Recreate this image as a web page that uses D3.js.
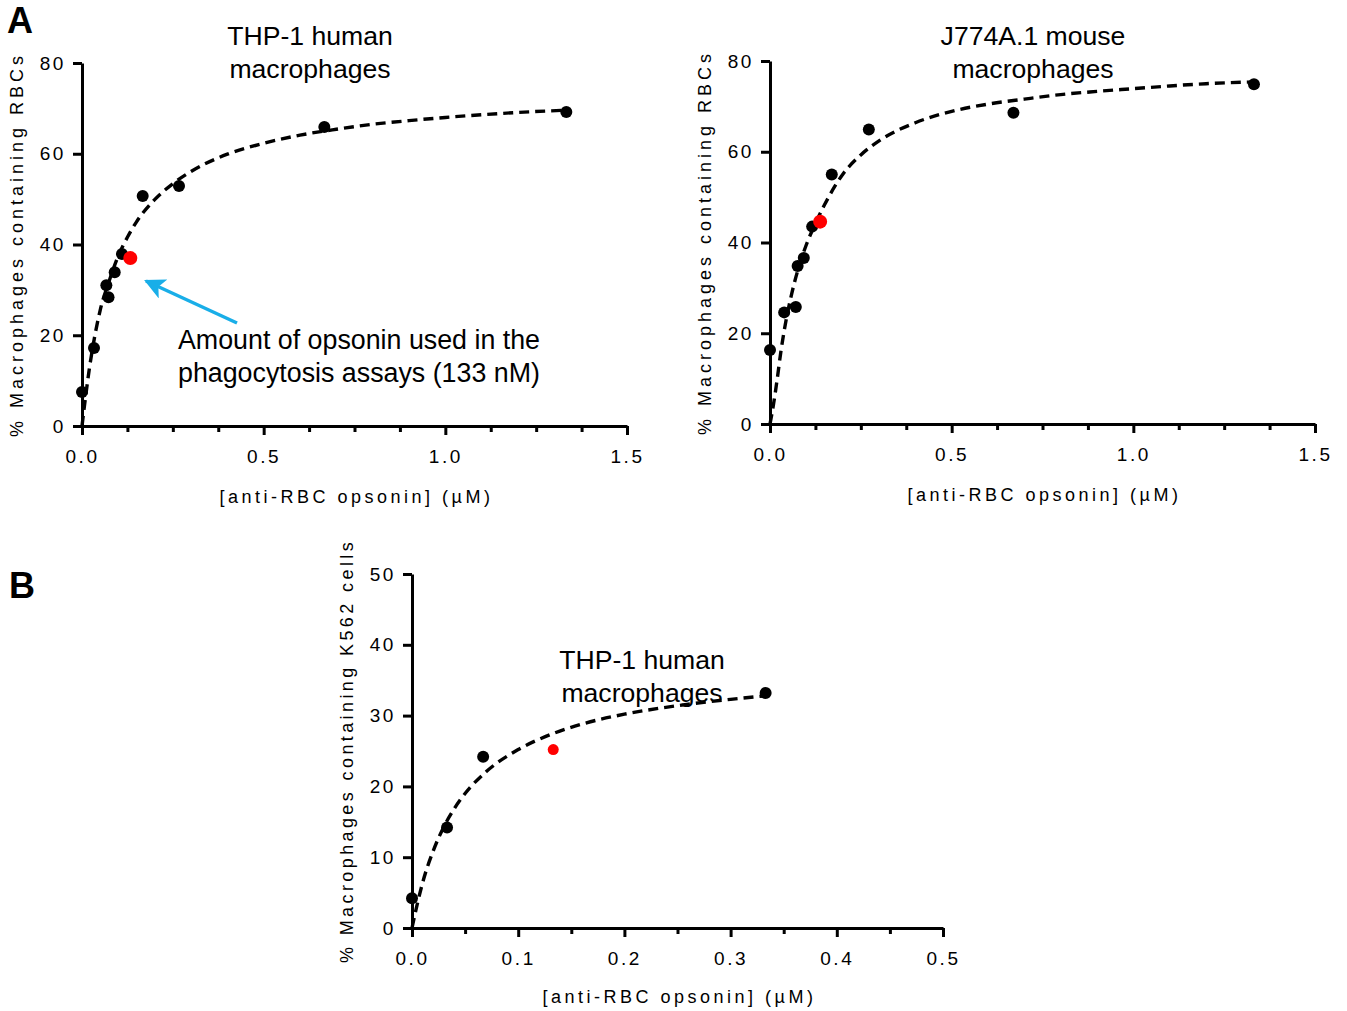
<!DOCTYPE html>
<html>
<head>
<meta charset="utf-8">
<script src="https://cdn.jsdelivr.net/npm/d3@7"></script>
<style>
  html, body { margin: 0; padding: 0; background: #fff; }
  svg { display: block; }
  text { font-family: "Liberation Sans", Arial, sans-serif; fill: #000; }
</style>
</head>
<body>
<svg id="fig" width="1347" height="1011"></svg>
<script>
// ---- THP-1 human macrophages, RBC targets (panel A, left) ----
const thpRbcX = [0, 0.033, 0.067, 0.073, 0.09, 0.11, 0.167, 0.267, 0.667, 1.333];
const thpRbcY = [7.5, 17.2, 31.0, 28.4, 33.9, 37.9, 50.7, 52.9, 65.9, 69.2];
const thpRbcRed = [0.133, 37.0];
const thpRbcFitX = [0, 0.01, 0.02, 0.03, 0.05, 0.075, 0.1, 0.125, 0.15, 0.2, 0.25, 0.3, 0.4, 0.5, 0.6, 0.7, 0.8, 0.9, 1.0, 1.1, 1.2, 1.333];
const thpRbcFitY = [0, 6.5, 12.5, 17.5, 25.5, 32.0, 37.5, 41.6, 45.0, 49.9, 53.4, 56.1, 59.9, 62.3, 64.1, 65.4, 66.5, 67.3, 68.0, 68.6, 69.1, 69.6];

// ---- J774A.1 mouse macrophages, RBC targets (panel A, right) ----
const j774X = [0, 0.039, 0.071, 0.076, 0.093, 0.116, 0.17, 0.272, 0.67, 1.332];
const j774Y = [16.3, 24.6, 25.8, 34.8, 36.6, 43.5, 55.0, 64.9, 68.6, 74.9];
const j774Red = [0.138, 44.6];
const j774FitX = [0, 0.01, 0.02, 0.03, 0.04, 0.06, 0.08, 0.1, 0.125, 0.15, 0.2, 0.25, 0.3, 0.4, 0.5, 0.6, 0.7, 0.8, 0.9, 1.0, 1.1, 1.2, 1.333];
const j774FitY = [0, 4.5, 10.0, 16.0, 21.0, 28.8, 34.8, 39.5, 44.2, 48.3, 55.0, 59.3, 62.4, 66.4, 68.9, 70.5, 71.6, 72.6, 73.3, 73.9, 74.5, 75.0, 75.4];

// ---- THP-1 human macrophages, K562 targets (panel B) ----
const k562X = [0, 0.033, 0.067, 0.333];
const k562Y = [4.2, 14.2, 24.2, 33.2];
const k562Red = [0.133, 25.2];
const k562FitX = [0, 0.005, 0.01, 0.02, 0.03, 0.04, 0.05, 0.07, 0.1, 0.13, 0.16, 0.2, 0.25, 0.3, 0.333];
const k562FitY = [0, 3.4, 6.4, 10.9, 14.3, 16.9, 19.0, 22.1, 25.2, 27.3, 28.8, 30.2, 31.4, 32.3, 32.8];

// ---- axis ticks ----
const xTicksA = [0, 0.5, 1.0, 1.5];
const xMinorA = [0.125, 0.25, 0.375, 0.625, 0.75, 0.875, 1.125, 1.25, 1.375];
const yTicksA = [0, 20, 40, 60, 80];
const xTicksB = [0, 0.1, 0.2, 0.3, 0.4, 0.5];
const xMinorB = [0.05, 0.15, 0.25, 0.35, 0.45];
const yTicksB = [0, 10, 20, 30, 40, 50];

const xTitle = "[anti-RBC opsonin] (\u00b5M)";

const svg = d3.select("#fig");

function panel(cfg) {
  const x = d3.scaleLinear().domain(cfg.xDomain).range([cfg.left, cfg.right]);
  const y = d3.scaleLinear().domain(cfg.yDomain).range([cfg.bottom, cfg.top]);
  const g = svg.append("g");

  // minor x ticks
  const minor = g.append("g")
    .attr("transform", `translate(0,${cfg.bottom})`)
    .call(d3.axisBottom(x).tickValues(cfg.xMinor).tickSize(6).tickFormat(""));
  minor.select(".domain").remove();
  minor.selectAll("line").attr("stroke", "#000").attr("stroke-width", 3);

  // major x axis
  const xa = g.append("g")
    .attr("transform", `translate(0,${cfg.bottom})`)
    .call(d3.axisBottom(x).tickValues(cfg.xTicks).tickSizeInner(9).tickSizeOuter(0)
      .tickPadding(15).tickFormat(d3.format(".1f")));
  xa.select(".domain").attr("stroke", "#000").attr("stroke-width", 3);
  xa.selectAll("line").attr("stroke", "#000").attr("stroke-width", 3);
  xa.selectAll("text").attr("font-size", 19).style("letter-spacing", "2.6px")
    .attr("font-family", "Liberation Sans, Arial, sans-serif").attr("fill", "#000");

  // y axis
  const ya = g.append("g")
    .attr("transform", `translate(${cfg.left},0)`)
    .call(d3.axisLeft(y).tickValues(cfg.yTicks).tickSizeInner(9).tickSizeOuter(0)
      .tickPadding(7).tickFormat(d3.format("d")));
  ya.select(".domain").attr("stroke", "#000").attr("stroke-width", 3);
  ya.selectAll("line").attr("stroke", "#000").attr("stroke-width", 3);
  ya.selectAll("text").attr("font-size", 19).style("letter-spacing", "2.6px")
    .attr("font-family", "Liberation Sans, Arial, sans-serif").attr("fill", "#000");

  // axis titles
  g.append("text")
    .attr("x", (cfg.left + cfg.right) / 2 + 2).attr("y", cfg.xTitleY)
    .attr("text-anchor", "middle").attr("font-size", 18)
    .style("letter-spacing", "3.5px").text(xTitle);
  g.append("text")
    .attr("transform", `translate(${cfg.yTitleX},${(cfg.top + cfg.bottom) / 2}) rotate(-90)`)
    .attr("text-anchor", "middle").attr("font-size", 18)
    .style("letter-spacing", cfg.yTitleSpacing).text(cfg.yTitle);

  // fitted saturation curve
  const fit = cfg.fitX.map((v, i) => [v, cfg.fitY[i]]);
  g.append("path")
    .datum(fit)
    .attr("fill", "none").attr("stroke", "#000").attr("stroke-width", 3.4)
    .attr("stroke-dasharray", "10,6")
    .attr("d", d3.line().x(d => x(d[0])).y(d => y(d[1])).curve(d3.curveMonotoneX));

  // measured points
  const pts = cfg.ptX.map((v, i) => [v, cfg.ptY[i]]);
  g.selectAll("circle.pt").data(pts).join("circle")
    .attr("class", "pt")
    .attr("cx", d => x(d[0])).attr("cy", d => y(d[1])).attr("r", 6).attr("fill", "#000");
  g.append("circle")
    .attr("cx", x(cfg.red[0])).attr("cy", y(cfg.red[1])).attr("r", cfg.redR).attr("fill", "#ff0000");

  // panel title
  const t = g.append("text").attr("text-anchor", "middle").attr("font-size", 26.6);
  cfg.title.forEach((line, i) => {
    t.append("tspan").attr("x", cfg.titleX).attr("y", cfg.titleY + i * 33).text(line);
  });
  return { x, y, g };
}

panel({
  xDomain: [0, 1.5], yDomain: [0, 80],
  left: 82, right: 627, top: 63, bottom: 426,
  xTicks: xTicksA, xMinor: xMinorA, yTicks: yTicksA,
  fitX: thpRbcFitX, fitY: thpRbcFitY, ptX: thpRbcX, ptY: thpRbcY,
  red: thpRbcRed, redR: 7,
  xTitleY: 503, yTitleX: 23, yTitle: "% Macrophages containing RBCs", yTitleSpacing: "4px",
  title: ["THP-1 human", "macrophages"], titleX: 310, titleY: 45
});

panel({
  xDomain: [0, 1.5], yDomain: [0, 80],
  left: 770, right: 1315, top: 61, bottom: 424,
  xTicks: xTicksA, xMinor: xMinorA, yTicks: yTicksA,
  fitX: j774FitX, fitY: j774FitY, ptX: j774X, ptY: j774Y,
  red: j774Red, redR: 7,
  xTitleY: 501, yTitleX: 711, yTitle: "% Macrophages containing RBCs", yTitleSpacing: "4px",
  title: ["J774A.1 mouse", "macrophages"], titleX: 1033, titleY: 45
});

panel({
  xDomain: [0, 0.5], yDomain: [0, 50],
  left: 412, right: 943, top: 574, bottom: 928,
  xTicks: xTicksB, xMinor: xMinorB, yTicks: yTicksB,
  fitX: k562FitX, fitY: k562FitY, ptX: k562X, ptY: k562Y,
  red: k562Red, redR: 5.5,
  xTitleY: 1003, yTitleX: 353, yTitle: "% Macrophages containing K562 cells", yTitleSpacing: "3.4px",
  title: ["THP-1 human", "macrophages"], titleX: 642, titleY: 669
});

// annotation pointing at the opsonin dose used in the assays
const ann = svg.append("text").attr("font-size", 26.8);
ann.append("tspan").attr("x", 178).attr("y", 349).text("Amount of opsonin used in the");
ann.append("tspan").attr("x", 178).attr("y", 382).text("phagocytosis assays (133 nM)");

const defs = svg.append("defs");
defs.append("marker")
  .attr("id", "arrowhead").attr("viewBox", "0 0 10 10")
  .attr("refX", 9).attr("refY", 5)
  .attr("markerWidth", 6).attr("markerHeight", 6)
  .attr("markerUnits", "strokeWidth")
  .attr("orient", "auto")
  .append("path").attr("d", "M0,0 L10,5 L0,10 L2.5,5 Z").attr("fill", "#19aee8");
svg.append("line")
  .attr("x1", 237).attr("y1", 323).attr("x2", 146).attr("y2", 281)
  .attr("stroke", "#19aee8").attr("stroke-width", 3.5)
  .attr("marker-end", "url(#arrowhead)");

// panel letters
svg.append("text").attr("x", 7).attr("y", 33).attr("font-size", 36).attr("font-weight", "bold").text("A");
svg.append("text").attr("x", 9).attr("y", 598).attr("font-size", 36).attr("font-weight", "bold").text("B");
</script>
</body>
</html>
